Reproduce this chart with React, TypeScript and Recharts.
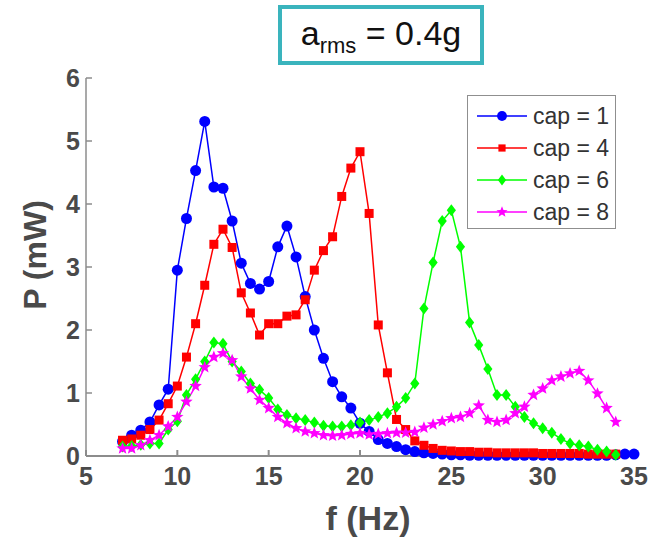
import { LineChart, Line, XAxis, YAxis, Legend } from 'recharts';

// frequency sweep (Hz), 0.5 Hz steps
const freqHz = [
  7, 7.5, 8, 8.5, 9, 9.5, 10, 10.5, 11, 11.5, 12, 12.5, 13, 13.5, 14, 14.5,
  15, 15.5, 16, 16.5, 17, 17.5, 18, 18.5, 19, 19.5, 20, 20.5, 21, 21.5, 22, 22.5,
  23, 23.5, 24, 24.5, 25, 25.5, 26, 26.5, 27, 27.5, 28, 28.5, 29, 29.5, 30, 30.5,
  31, 31.5, 32, 32.5, 33, 33.5, 34, 34.5, 35,
];

// power (mW) per capacitor setting
const cap1 = [
  0.23, 0.33, 0.41, 0.54, 0.81, 1.06, 2.95, 3.77, 4.53, 5.31, 4.27, 4.25, 3.73, 3.06, 2.74, 2.65,
  2.77, 3.32, 3.65, 3.16, 2.53, 2.0, 1.55, 1.18, 0.94, 0.76, 0.52, 0.39, 0.26, 0.2, 0.15, 0.1,
  0.07, 0.05, 0.04, 0.03, 0.02, 0.02, 0.01, 0.01, 0.01, 0.01, 0.01, 0.01, 0.01, 0.01, 0.01, 0.01,
  0.01, 0.01, 0.01, 0.01, 0.01, 0.01, 0.02, 0.03, 0.03,
];
const cap4 = [
  0.25, 0.27, 0.33, 0.42, 0.57, 0.83, 1.11, 1.57, 2.1, 2.71, 3.36, 3.6, 3.31, 2.59, 2.27, 1.92,
  2.1, 2.1, 2.22, 2.24, 2.48, 2.95, 3.26, 3.48, 4.12, 4.57, 4.83, 3.85, 2.08, 1.32, 0.58, 0.42,
  0.24, 0.17, 0.12, 0.09, 0.08, 0.07, 0.07, 0.06, 0.06, 0.05, 0.05, 0.05, 0.05, 0.05, 0.04, 0.04,
  0.04, 0.04, 0.04, 0.03, 0.03, 0.03, 0.03,
];
const cap6 = [
  0.15, 0.16, 0.18, 0.2, 0.2, 0.42, 0.55, 0.97, 1.22, 1.5, 1.8, 1.78, 1.5, 1.34, 1.15, 1.05,
  0.92, 0.74, 0.65, 0.6, 0.57, 0.53, 0.48, 0.47, 0.47, 0.49, 0.53, 0.57, 0.62, 0.68, 0.78, 0.92,
  1.15, 2.34, 3.07, 3.73, 3.9, 3.32, 2.12, 1.76, 1.38, 0.97, 0.97, 0.78, 0.62, 0.52, 0.44, 0.37,
  0.27, 0.2, 0.17, 0.15, 0.1, 0.07, 0.02,
];
const cap8 = [
  0.12, 0.12, 0.17, 0.25, 0.33, 0.47, 0.62, 0.86, 1.11, 1.41, 1.57, 1.63, 1.52, 1.26, 1.07, 0.89,
  0.76, 0.62, 0.52, 0.44, 0.39, 0.36, 0.33, 0.32, 0.33, 0.35, 0.36, 0.34, 0.35, 0.36, 0.37, 0.37,
  0.38, 0.45, 0.5, 0.55, 0.6, 0.62, 0.68, 0.8, 0.57, 0.54, 0.57, 0.68, 0.78, 0.97, 1.07, 1.2,
  1.26, 1.31, 1.35, 1.2, 0.99, 0.76, 0.54,
];

const xTicks = [5, 10, 15, 20, 25, 30, 35];
const yTicks = [0, 1, 2, 3, 4, 5, 6];

const SERIES = [
  { name: 'cap = 1', values: cap1, color: '#0000ff', marker: 'circle' },
  { name: 'cap = 4', values: cap4, color: '#ff0000', marker: 'square' },
  { name: 'cap = 6', values: cap6, color: '#00ff00', marker: 'diamond' },
  { name: 'cap = 8', values: cap8, color: '#ff00ff', marker: 'star' },
];

const AXIS_GRAY = '#8c8c8c';
const LABEL_GRAY = '#4a4a4a';
const FONT = 'Arial, "Liberation Sans", Helvetica, sans-serif';

function starPoints(cx: number, cy: number, ro: number, ri: number) {
  const pts: string[] = [];
  for (let i = 0; i < 10; i++) {
    const r = i % 2 === 0 ? ro : ri;
    const a = -Math.PI / 2 + (i * Math.PI) / 5;
    pts.push(`${cx + r * Math.cos(a)},${cy + r * Math.sin(a)}`);
  }
  return pts.join(' ');
}

function Marker({ kind, cx, cy, color, s = 1 }: any) {
  if (cx == null || cy == null) return null;
  if (kind === 'circle') return <circle cx={cx} cy={cy} r={5.5 * s} fill={color} />;
  if (kind === 'square') {
    const h = 4.5 * s;
    return <rect x={cx - h} y={cy - h} width={2 * h} height={2 * h} fill={color} />;
  }
  if (kind === 'diamond') {
    const h = 6 * s;
    const w = 4.6 * s;
    return (
      <polygon
        points={`${cx},${cy - h} ${cx + w},${cy} ${cx},${cy + h} ${cx - w},${cy}`}
        fill={color}
      />
    );
  }
  return <polygon points={starPoints(cx, cy, 6.5 * s, 2.8 * s)} fill={color} />;
}

function LegendBox() {
  return (
    <div
      style={{
        width: 149,
        height: 134,
        boxSizing: 'border-box',
        border: '1px solid #8f8f8f',
        background: '#fff',
        paddingTop: 4,
        fontFamily: FONT,
      }}
    >
      {SERIES.map((s) => (
        <div key={s.name} style={{ display: 'flex', alignItems: 'center', height: 32 }}>
          <svg width={64} height={32} style={{ flex: 'none' }}>
            <line x1={9} x2={59} y1={16} y2={16} stroke={s.color} strokeWidth={1.5} />
            <Marker kind={s.marker} cx={34} cy={16} color={s.color} s={s.marker === 'square' ? 0.8 : 0.9} />
          </svg>
          <span style={{ fontSize: 23, color: '#333', marginLeft: 1, whiteSpace: 'nowrap' }}>
            {s.name}
          </span>
        </div>
      ))}
    </div>
  );
}

const tickStyle = { fill: LABEL_GRAY, fontSize: 25, fontWeight: 700, fontFamily: FONT };

export default function App() {
  return (
    <div style={{ position: 'absolute', left: 0, top: 0, width: 656, height: 540, background: '#fff' }}>
      <div
        style={{
          position: 'absolute',
          left: 278,
          top: 5,
          width: 206,
          height: 60,
          boxSizing: 'border-box',
          border: '4px solid #3ab4bd',
          fontFamily: FONT,
          fontSize: 34,
          color: '#111',
          textAlign: 'center',
          lineHeight: '48px',
          whiteSpace: 'nowrap',
        }}
      >
        a<span style={{ fontSize: 22, position: 'relative', top: 8 }}>rms</span> = 0.4g
      </div>
      <LineChart width={656} height={540} margin={{ top: 78, right: 22, bottom: 34, left: 30 }}>
        <XAxis
          dataKey="f"
          type="number"
          domain={[5, 35]}
          ticks={xTicks}
          allowDuplicatedCategory={false}
          height={50}
          stroke={AXIS_GRAY}
          strokeWidth={2}
          tickSize={-6}
          tickMargin={17}
          tick={tickStyle}
          label={{
            content: () => (
              <text
                x={368}
                y={530}
                textAnchor="middle"
                fill={LABEL_GRAY}
                fontSize={34}
                fontWeight={700}
                fontFamily={FONT}
              >
                f (Hz)
              </text>
            ),
          }}
        />
        <XAxis
          xAxisId="top"
          orientation="top"
          type="number"
          domain={[5, 35]}
          ticks={xTicks}
          height={0}
          stroke={AXIS_GRAY}
          strokeWidth={1.5}
          tickSize={-6}
          tick={false}
        />
        <YAxis
          type="number"
          domain={[0, 6]}
          ticks={yTicks}
          width={56}
          stroke={AXIS_GRAY}
          strokeWidth={1.5}
          tickSize={-6}
          tickMargin={12}
          tick={tickStyle}
          label={{
            content: () => (
              <text
                x={35}
                y={255}
                transform="rotate(-90 35 255)"
                textAnchor="middle"
                dominantBaseline="central"
                fill={LABEL_GRAY}
                fontSize={32}
                fontWeight={700}
                fontFamily={FONT}
              >
                P (mW)
              </text>
            ),
          }}
        />
        <YAxis
          yAxisId="right"
          orientation="right"
          type="number"
          domain={[0, 6]}
          ticks={yTicks}
          width={0}
          stroke={AXIS_GRAY}
          strokeWidth={1.5}
          tickSize={-6}
          tick={false}
        />
        {SERIES.map((s) => (
          <Line
            key={s.name}
            name={s.name}
            data={s.values.map((p, i) => ({ f: freqHz[i], p }))}
            dataKey="p"
            type="linear"
            stroke={s.color}
            strokeWidth={1.5}
            isAnimationActive={false}
            activeDot={false}
            dot={(props: any) => (
              <Marker key={`${s.name}-${props.index}`} kind={s.marker} cx={props.cx} cy={props.cy} color={s.color} />
            )}
          />
        ))}
        <Legend
          layout="horizontal"
          verticalAlign="middle"
          align="center"
          content={() => <LegendBox />}
          wrapperStyle={{ left: 467, top: 95, width: 149, height: 134 }}
        />
      </LineChart>
    </div>
  );
}
